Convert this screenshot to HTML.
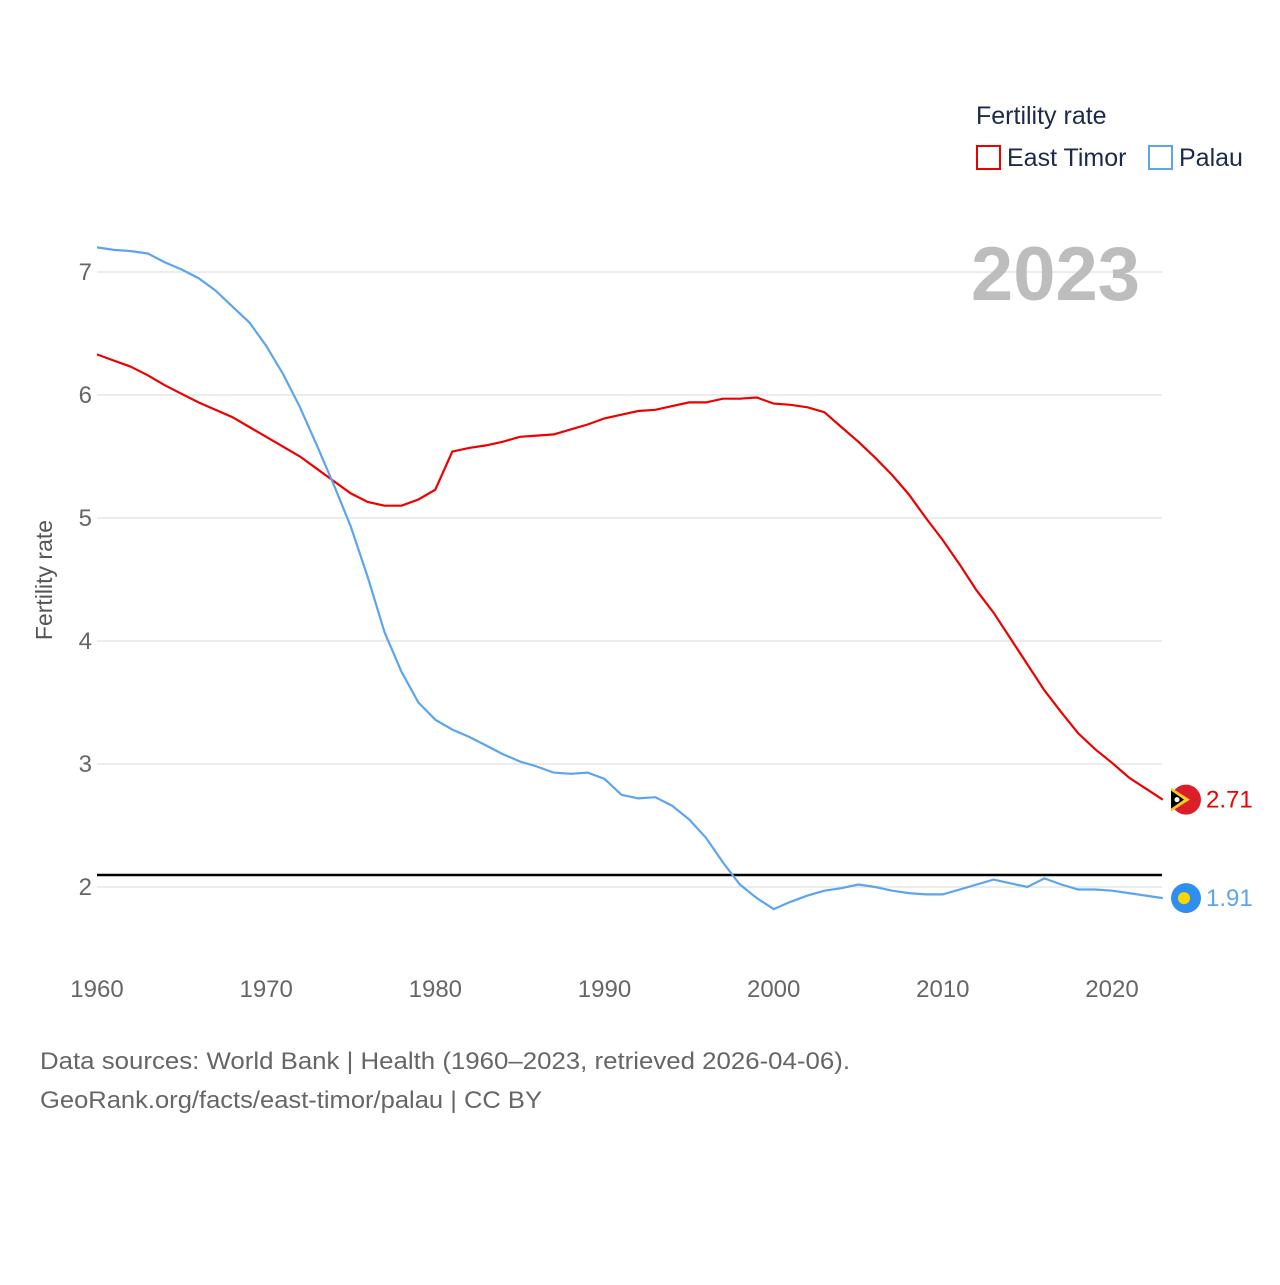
<!DOCTYPE html>
<html><head><meta charset="utf-8"><style>
body{margin:0;background:#fff;font-family:"Liberation Sans",sans-serif}
svg text{font-family:"Liberation Sans",sans-serif}
</style></head><body>
<svg id="chart" width="1280" height="1280" viewBox="0 0 1280 1280">
<g id="grid"></g>
<g id="yticks"></g>
<g id="xticks"></g>
<text x="52" y="580" transform="rotate(-90 52 580)" text-anchor="middle" font-size="23" fill="#555">Fertility rate</text>
<text x="1140" y="300" text-anchor="end" font-size="76" font-weight="bold" fill="#bdbdbd">2023</text>
<line x1="97" x2="1162" y1="875" y2="875" stroke="#000" stroke-width="2.5"/>
<g id="series"></g>
<g>
<text x="976" y="124" font-size="25" fill="#1b2a4a">Fertility rate</text>
<g><rect x="977" y="146" width="23" height="23" fill="none" stroke="#e00" stroke-width="2"/><text x="1007" y="166" font-size="25" fill="#1b2a4a">East Timor</text></g>
<g><rect x="1149" y="146" width="23" height="23" fill="none" stroke="#5ba4ee" stroke-width="2"/><text x="1179" y="166" font-size="25" fill="#1b2a4a">Palau</text></g>
</g>
<text x="40" y="1069" font-size="24" fill="#666" textLength="810" lengthAdjust="spacingAndGlyphs">Data sources: World Bank | Health (1960–2023, retrieved 2026-04-06).</text>
<text x="40" y="1108" font-size="24" fill="#666" textLength="502" lengthAdjust="spacingAndGlyphs">GeoRank.org/facts/east-timor/palau | CC BY</text>
</svg>
<script>
const years=[];for(let y=1960;y<=2023;y++)years.push(y);
const eastTimor=[6.33,6.28,6.23,6.16,6.08,6.01,5.94,5.88,5.82,5.74,5.66,5.58,5.50,5.40,5.30,5.20,5.13,5.10,5.10,5.15,5.23,5.54,5.57,5.59,5.62,5.66,5.67,5.68,5.72,5.76,5.81,5.84,5.87,5.88,5.91,5.94,5.94,5.97,5.97,5.98,5.93,5.92,5.90,5.86,5.74,5.62,5.49,5.35,5.19,5.00,4.82,4.62,4.41,4.23,4.02,3.81,3.60,3.42,3.25,3.12,3.01,2.89,2.80,2.71];
const palau=[7.20,7.18,7.17,7.15,7.08,7.02,6.95,6.85,6.72,6.59,6.40,6.17,5.90,5.59,5.27,4.93,4.52,4.07,3.75,3.50,3.36,3.28,3.22,3.15,3.08,3.02,2.98,2.93,2.92,2.93,2.88,2.75,2.72,2.73,2.66,2.55,2.40,2.20,2.02,1.91,1.82,1.88,1.93,1.97,1.99,2.02,2.00,1.97,1.95,1.94,1.94,1.98,2.02,2.06,2.03,2.00,2.07,2.02,1.98,1.98,1.97,1.95,1.93,1.91];
const yTicks=[2,3,4,5,6,7];
const xTicks=[1960,1970,1980,1990,2000,2010,2020];
const X=y=>97+(y-1960)*(1015/60);
const Y=v=>887-(v-2)*123;
const NS="http://www.w3.org/2000/svg";
function mk(t,a,p){const e=document.createElementNS(NS,t);for(const k in a)e.setAttribute(k,a[k]);p.appendChild(e);return e;}
const grid=document.getElementById('grid'),yt=document.getElementById('yticks'),xt=document.getElementById('xticks'),se=document.getElementById('series');
yTicks.forEach(v=>{
 const l=mk('line',{x1:97,x2:1162,y1:Y(v),y2:Y(v),stroke:'#e6e6e6','stroke-width':1.5},grid);
 
 
 const t=mk('text',{x:92,y:Y(v)+8,'text-anchor':'end','font-size':24,fill:'#666'},yt);t.textContent=v;
 
 
});
xTicks.forEach(v=>{
 const t=mk('text',{x:X(v),y:997,'text-anchor':'middle','font-size':24,fill:'#666'},xt);t.textContent=v;
 
 
});
function line(d,c,n){
 const p=mk('path',{d:d.map((v,i)=>(i?'L':'M')+X(years[i]).toFixed(1)+','+Y(v).toFixed(1)).join(''),fill:'none',stroke:c,'stroke-width':2.2},se);
 
 
}
line(eastTimor,'#e00','east-timor');line(palau,'#5ba4ee','palau');
const lx=1186;
let ey=Y(eastTimor[eastTimor.length-1]),py=Y(palau[palau.length-1]);
let g=mk('g',{},se);


mk('circle',{cx:lx,cy:ey,r:15,fill:'#dc1e2a'},g);
mk('path',{d:`M${lx-15},${ey-12} L${lx+4},${ey} L${lx-15},${ey+12}Z`,fill:'#ffc726'},g);
mk('path',{d:`M${lx-15},${ey-9} L${lx-2},${ey} L${lx-15},${ey+9}Z`,fill:'#000'},g);
mk('circle',{cx:lx-9,cy:ey,r:2.5,fill:'#fff'},g);
let t=mk('text',{x:1206,y:ey+8,'font-size':24,fill:'#e00'},se);t.textContent=eastTimor[eastTimor.length-1].toFixed(2);


g=mk('g',{},se);


mk('circle',{cx:lx,cy:py,r:15,fill:'#2f8ff0'},g);
mk('circle',{cx:lx-2,cy:py,r:6,fill:'#ffd700'},g);
t=mk('text',{x:1206,y:py+8,'font-size':24,fill:'#5ba4ee'},se);t.textContent=palau[palau.length-1].toFixed(2);


</script>
</body></html>
